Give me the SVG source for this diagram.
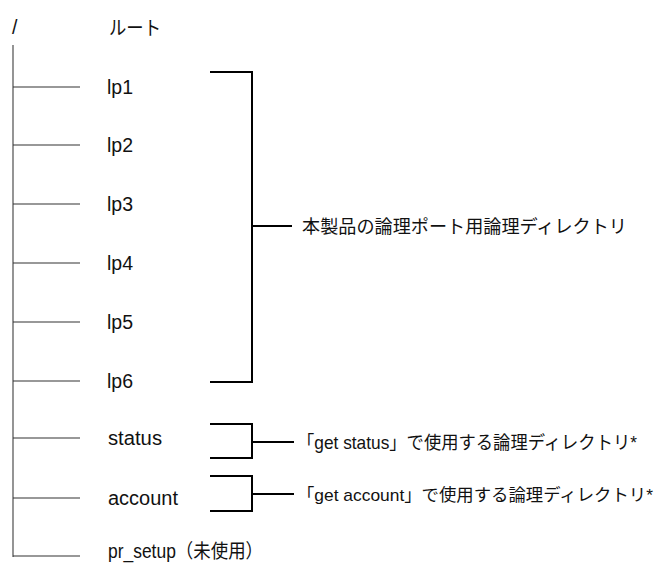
<svg xmlns="http://www.w3.org/2000/svg" width="666" height="563" viewBox="0 0 666 563">
<style>
text{font-family:"Liberation Sans","Noto Sans CJK JP",sans-serif;fill:#111}
.lbl{font-size:19.5px}
.ja{font-size:18.5px}
.trunk{stroke:#7a7a7a;stroke-width:1.6;fill:none}
.br{stroke:#333;stroke-width:1.2;fill:none}
.bk{stroke:#000;stroke-width:2;fill:none}
</style>
<rect width="666" height="563" fill="#fff"/>
<g id="root">
<text class="lbl" x="12" y="34">/</text>
<text class="ja" x="109" y="35" style="font-size:19.5px" textLength="52" lengthAdjust="spacingAndGlyphs">ルート</text>
</g>
<g id="connectors">
<line class="trunk" x1="13" y1="45" x2="13" y2="557"/>
<line class="br" x1="13" y1="87" x2="80" y2="87"/>
<line class="br" x1="13" y1="145" x2="80" y2="145"/>
<line class="br" x1="13" y1="204" x2="80" y2="204"/>
<line class="br" x1="13" y1="263" x2="80" y2="263"/>
<line class="br" x1="13" y1="322" x2="80" y2="322"/>
<line class="br" x1="13" y1="381" x2="80" y2="381"/>
<line class="br" x1="13" y1="438" x2="80" y2="438"/>
<line class="br" x1="13" y1="498" x2="80" y2="498"/>
<line class="br" x1="13" y1="556" x2="80" y2="556"/>
<path class="bk" d="M210 72 H252 V382 H210 M252 226 H292"/>
<path class="bk" d="M210 424 H252 V458 H210 M252 442 H294"/>
<path class="bk" d="M210 476 H252 V511 H210 M252 494 H294"/>
</g>
<g id="lp1"><text class="lbl" x="107" y="94">lp1</text></g>
<g id="lp2"><text class="lbl" x="107" y="152">lp2</text></g>
<g id="lp3"><text class="lbl" x="107" y="211">lp3</text></g>
<g id="lp4"><text class="lbl" x="107" y="270">lp4</text></g>
<g id="lp5"><text class="lbl" x="107" y="329">lp5</text></g>
<g id="lp6"><text class="lbl" x="107" y="388">lp6</text></g>
<g id="status"><text class="lbl" x="108" y="445" textLength="54" lengthAdjust="spacingAndGlyphs">status</text></g>
<g id="account"><text class="lbl" x="108" y="505" textLength="70" lengthAdjust="spacingAndGlyphs">account</text></g>
<g id="pr_setup"><text class="lbl" x="108" y="558" textLength="155" lengthAdjust="spacingAndGlyphs">pr_setup（未使用）</text></g>
<g id="note-lp"><text class="ja" x="302" y="233" textLength="325" lengthAdjust="spacingAndGlyphs">本製品の論理ポート用論理ディレクトリ</text></g>
<g id="note-status"><text class="ja" x="297" y="449" textLength="340" lengthAdjust="spacingAndGlyphs">「get status」で使用する論理ディレクトリ*</text></g>
<g id="note-account"><text class="ja" x="297" y="501" style="font-size:17px" textLength="356" lengthAdjust="spacingAndGlyphs">「get account」で使用する論理ディレクトリ*</text></g>
</svg>
